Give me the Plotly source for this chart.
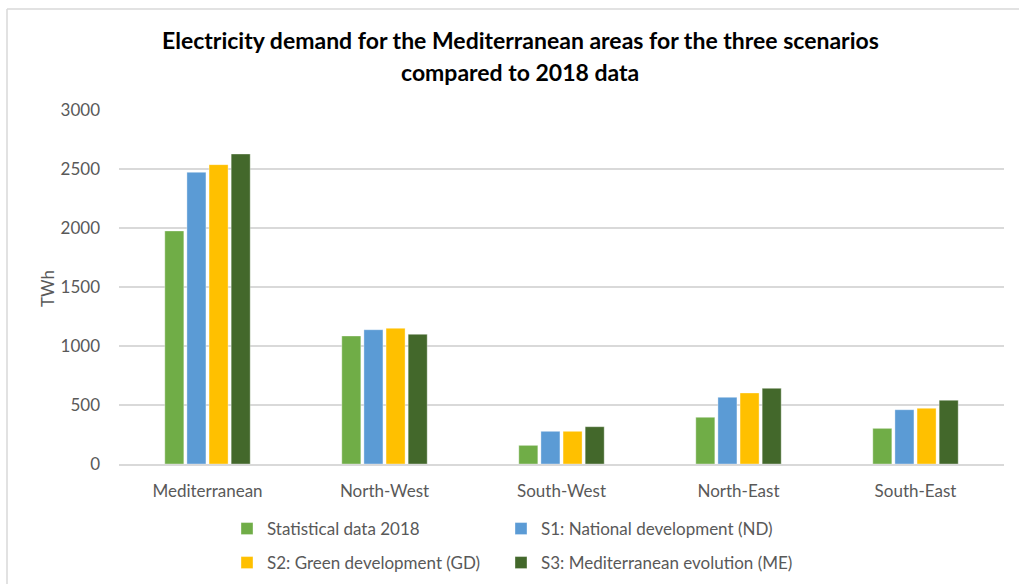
import plotly.graph_objects as go

# Electricity demand (TWh) by area and scenario
areas = ["Mediterranean", "North-West", "South-West", "North-East", "South-East"]
series_names = [
    "Statistical data 2018",
    "S1: National development (ND)",
    "S2: Green development (GD)",
    "S3: Mediterranean evolution (ME)",
]
stat_2018 = [1975, 1085, 158, 396, 302]
s1_nd = [2472, 1138, 277, 565, 460]
s2_gd = [2537, 1150, 277, 602, 472]
s3_me = [2627, 1099, 316, 641, 540]
y_ticks = [0, 500, 1000, 1500, 2000, 2500, 3000]

colors = ["#70AD47", "#5B9BD5", "#FFC000", "#43682B"]
values = [stat_2018, s1_nd, s2_gd, s3_me]
# one legend box per entry, laid out as a 2 x 2 grid below the axis
legend_ids = ["legend", "legend2", "legend3", "legend4"]

FONT = "Lato, 'Open Sans', sans-serif"
GREY = "#595959"
FS = 17

fig = go.Figure()
for name, vals, col, lg in zip(series_names, values, colors, legend_ids):
    fig.add_trace(go.Bar(
        x=areas, y=vals, name=name,
        marker=dict(color=col, line=dict(color="rgba(255,255,255,0.6)", width=0.6)),
        legend=lg,
    ))

# plot area geometry in pixels
W, H = 1019, 584
L, R, T, B = 119, 15, 110, 120
pw, ph = W - L - R, H - T - B

def px(x):
    return (x - L) / pw

def py(y):
    return (H - B - y) / ph

legend_style = dict(orientation="h", xanchor="left", yanchor="middle",
                    font=dict(family=FONT, size=FS, color=GREY),
                    bgcolor="rgba(0,0,0,0)")
col_x = [227, 501]
row_y = [529, 563]

fig.update_layout(
    width=W, height=H,
    margin=dict(l=L, r=R, t=T, b=B, autoexpand=False),
    paper_bgcolor="white", plot_bgcolor="white",
    font=dict(family=FONT, color=GREY, size=FS),
    barmode="group", bargap=0.5, bargroupgap=0.14,
    showlegend=True,
    legend=dict(x=px(col_x[0]), y=py(row_y[0]), **legend_style),
    legend2=dict(x=px(col_x[1]), y=py(row_y[0]), **legend_style),
    legend3=dict(x=px(col_x[0]), y=py(row_y[1]), **legend_style),
    legend4=dict(x=px(col_x[1]), y=py(row_y[1]), **legend_style),
    xaxis=dict(showgrid=False, showline=True, linecolor="#D9D9D9", linewidth=1.5,
               ticks="", ticklabelstandoff=11,
               tickfont=dict(family=FONT, size=FS, color=GREY)),
    yaxis=dict(range=[0, 3000], tickvals=y_ticks, showgrid=True, gridcolor="#D9D9D9",
               gridwidth=1.5, zeroline=False, showline=False, ticks="",
               ticklabelstandoff=18,
               tickfont=dict(family=FONT, size=FS, color=GREY)),
)

annotations = [
    dict(text="<b>Electricity demand for the Mediterranean areas for the three scenarios</b>",
         x=px(520), y=py(40), xref="paper", yref="paper", showarrow=False,
         xanchor="center", yanchor="middle",
         font=dict(family=FONT, size=23, color="#000000")),
    dict(text="<b>compared to 2018 data</b>",
         x=px(520), y=py(72), xref="paper", yref="paper", showarrow=False,
         xanchor="center", yanchor="middle",
         font=dict(family=FONT, size=23, color="#000000")),
    dict(text="TWh", x=px(47), y=py(289), xref="paper", yref="paper", showarrow=False,
         textangle=-90, xanchor="center", yanchor="middle",
         font=dict(family=FONT, size=FS, color=GREY)),
]
fig.update_layout(annotations=annotations)

# light chart border along the top and left edges
fig.add_shape(type="line", xref="paper", yref="paper",
              x0=px(7), x1=px(W), y0=py(9), y1=py(9),
              line=dict(color="#D9D9D9", width=1.5))
fig.add_shape(type="line", xref="paper", yref="paper",
              x0=px(7), x1=px(7), y0=py(9), y1=py(H),
              line=dict(color="#D9D9D9", width=1.5))

fig.write_html("out.html")
